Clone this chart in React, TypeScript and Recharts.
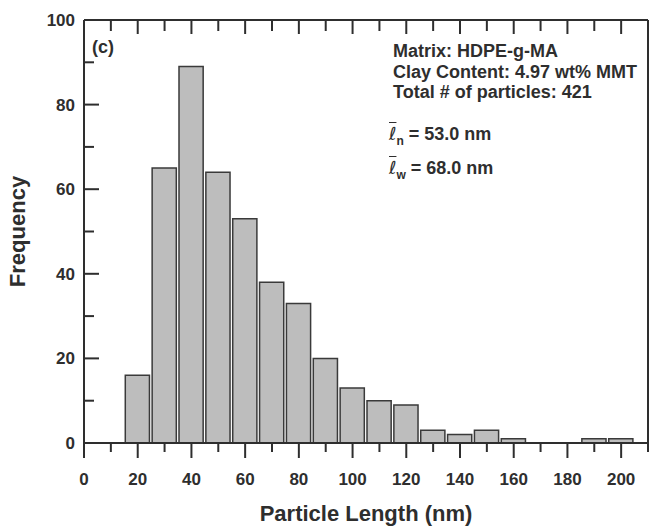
import { Bar, ComposedChart, XAxis, YAxis } from "recharts";

const binCenters = [20, 30, 40, 50, 60, 70, 80, 90, 100, 110, 120, 130, 140, 150, 160, 170, 180, 190, 200];
const frequencies = [16, 65, 89, 64, 53, 38, 33, 20, 13, 10, 9, 3, 2, 3, 1, 0, 0, 1, 1];
const xTicks = [0, 10, 20, 30, 40, 50, 60, 70, 80, 90, 100, 110, 120, 130, 140, 150, 160, 170, 180, 190, 200, 210];
const yTicks = [0, 10, 20, 30, 40, 50, 60, 70, 80, 90, 100];
const infoLines = ["Matrix: HDPE-g-MA", "Clay Content: 4.97 wt% MMT", "Total # of particles: 421"];

const data = binCenters.map((x, i) => ({ x, count: frequencies[i] }));

const W = 652;
const H = 526;
const margin = { top: 19, right: 3, bottom: 33, left: 24 };
const yAxisWidth = 60;
const plotWidth = W - margin.left - yAxisWidth - margin.right - 1;
const ink = "#2e2e2e";
const font = "'Liberation Sans', Arial, sans-serif";

const isMajor = (v: number) => v % 20 === 0;

function BottomTick({ x, y, payload }: any) {
  const v = payload.value;
  return (
    <g>
      <line x1={x} x2={x} y1={y} y2={y + (isMajor(v) ? 15 : 9)} stroke={ink} strokeWidth={2} />
      {isMajor(v) && v <= 200 && (
        <text x={x} y={y + 42} textAnchor="middle" fontSize={17} fontWeight="bold" fill={ink} fontFamily={font}>
          {v}
        </text>
      )}
    </g>
  );
}

function TopTick({ x, y, payload }: any) {
  return <line x1={x} x2={x} y1={y} y2={y + (isMajor(payload.value) ? 14 : 11)} stroke={ink} strokeWidth={2} />;
}

function LeftTick({ x, y, payload }: any) {
  const v = payload.value;
  return (
    <g>
      <line x1={x} x2={x + (isMajor(v) ? 15 : 10)} y1={y} y2={y} stroke={ink} strokeWidth={2} />
      {isMajor(v) && (
        <text x={x - 9} y={y + 6} textAnchor="end" fontSize={17} fontWeight="bold" fill={ink} fontFamily={font}>
          {v}
        </text>
      )}
    </g>
  );
}

function RightTick({ x, y, payload }: any) {
  return <line x1={x} x2={x - (isMajor(payload.value) ? 13 : 10)} y1={y} y2={y} stroke={ink} strokeWidth={2} />;
}

function XTitle({ viewBox }: any) {
  return (
    <text
      x={viewBox.x + viewBox.width / 2}
      y={viewBox.y + 78}
      textAnchor="middle"
      fontSize={22}
      fontWeight="bold"
      fill={ink}
      fontFamily={font}
    >
      Particle Length (nm)
    </text>
  );
}

function YTitle({ viewBox }: any) {
  const cy = viewBox.y + viewBox.height / 2;
  return (
    <text
      x={25}
      y={cy}
      transform={`rotate(-90 25 ${cy})`}
      textAnchor="middle"
      fontSize={22}
      fontWeight="bold"
      fill={ink}
      fontFamily={font}
    >
      Frequency
    </text>
  );
}

export default function App() {
  return (
    <div style={{ position: "absolute", left: 0, top: 0, width: W, height: H, background: "#fff", fontFamily: font }}>
      <ComposedChart width={W} height={H} data={data} margin={margin}>
        <XAxis
          xAxisId="bottom"
          dataKey="x"
          type="number"
          domain={[0, 210]}
          ticks={xTicks}
          interval={0}
          tickSize={0}
          tickMargin={0}
          tickLine={false}
          tick={<BottomTick />}
          height={50}
          stroke={ink}
          strokeWidth={2}
          label={<XTitle />}
        />
        <XAxis
          xAxisId="top"
          orientation="top"
          dataKey="x"
          type="number"
          domain={[0, 210]}
          ticks={xTicks}
          interval={0}
          tickSize={0}
          tickMargin={0}
          tickLine={false}
          tick={<TopTick />}
          height={1}
          stroke={ink}
          strokeWidth={2}
        />
        <YAxis
          yAxisId="left"
          type="number"
          domain={[0, 100]}
          ticks={yTicks}
          interval={0}
          tickSize={0}
          tickMargin={0}
          tickLine={false}
          tick={<LeftTick />}
          width={yAxisWidth}
          stroke={ink}
          strokeWidth={2}
          label={<YTitle />}
        />
        <YAxis
          yAxisId="right"
          orientation="right"
          type="number"
          domain={[0, 100]}
          ticks={yTicks}
          interval={0}
          tickSize={0}
          tickMargin={0}
          tickLine={false}
          tick={<RightTick />}
          width={1}
          stroke={ink}
          strokeWidth={2}
        />
        <Bar
          xAxisId="bottom"
          yAxisId="left"
          dataKey="count"
          fill="#bdbdbd"
          stroke="#3a3a3a"
          strokeWidth={1.5}
          barSize={plotWidth / 21}
          isAnimationActive={false}
        />
        <Bar xAxisId="top" yAxisId="right" dataKey="none" isAnimationActive={false} />
      </ComposedChart>
      <div style={{ position: "absolute", left: 92, top: 37, fontSize: 18, fontWeight: "bold", color: ink }}>(c)</div>
      <div style={{ position: "absolute", left: 393, top: 41, fontSize: 18, fontWeight: "bold", color: ink, lineHeight: "20.5px" }}>
        {infoLines.map((t) => (
          <div key={t} style={{ whiteSpace: "nowrap" }}>{t}</div>
        ))}
      </div>
      {[
        { sub: "n", value: "53.0 nm", top: 123 },
        { sub: "w", value: "68.0 nm", top: 157 },
      ].map((r) => (
        <div
          key={r.sub}
          style={{ position: "absolute", left: 389, top: r.top, fontSize: 18, fontWeight: "bold", color: ink, whiteSpace: "nowrap" }}
        >
          <span style={{ fontStyle: "italic", fontWeight: "normal", textDecoration: "overline", fontFamily: "'DejaVu Sans', sans-serif" }}>ℓ</span>
          <sub style={{ fontSize: 12 }}>{r.sub}</sub> = {r.value}
        </div>
      ))}
    </div>
  );
}
